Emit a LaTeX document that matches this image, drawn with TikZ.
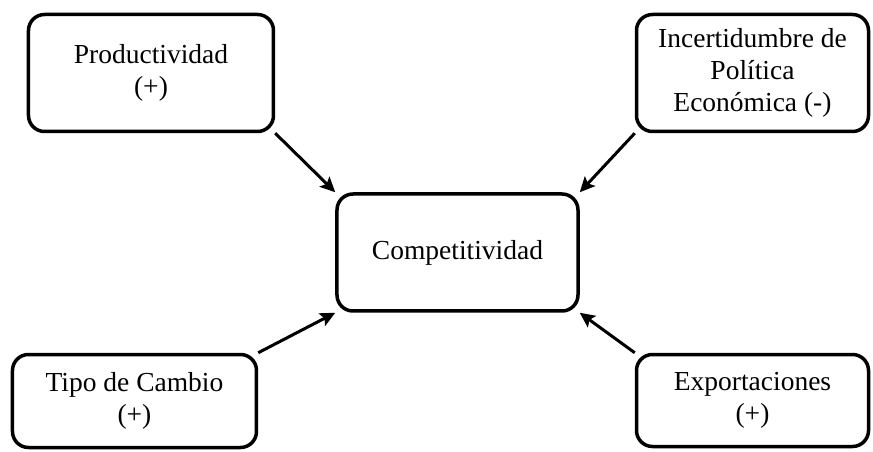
\documentclass[tikz,border=0pt]{standalone}
\usepackage{fontspec}
\setmainfont{Liberation Serif}
\usetikzlibrary{positioning}
\usetikzlibrary{arrows.meta}

\begin{document}
\begin{tikzpicture}[x=1pt,y=1pt,
		every node/.style={draw, rounded corners=16pt, line width=3.5pt, align=center,
			font=\fontsize{27.5}{32}\selectfont},
		link/.style={-{Stealth[length=15pt,width=14pt,inset=3pt]}, line width=3pt}]
		\useasboundingbox (-457.5,-199.5) rectangle (415.5,252.5);
		\node (comp) [minimum width=241pt, minimum height=117pt] {Competitividad};
		\node (prod) [above left=59pt and 60pt of comp, minimum width=245pt, minimum height=117pt] {Productividad\\(+)};
		\node (incert) [above right=59pt and 55pt of comp, minimum width=232pt, minimum height=117pt] {Incertidumbre de\\Política\\Económica (-)};
		\node (tipo) [below left=40pt and 77pt of comp, minimum width=244pt, minimum height=93pt] {Tipo de Cambio\\(+)};
		\node (expo) [below right=40pt and 55pt of comp, minimum width=232pt, minimum height=92pt] {Exportaciones\\(+)};
		\draw[link] (prod.south east) -- (comp.north west);
		\draw[link] (incert.south west) -- (comp.north east);
		\draw[link] (tipo.north east) -- (comp.south west);
		\draw[link] (expo.north west) -- (comp.south east);
\end{tikzpicture}
\end{document}
